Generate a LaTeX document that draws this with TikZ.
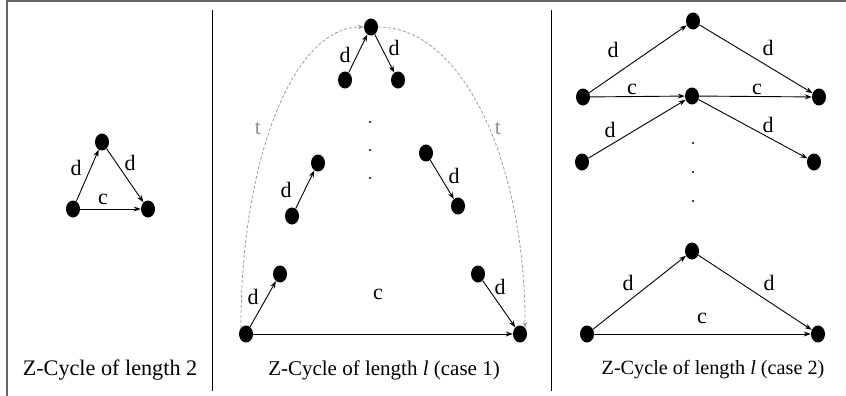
\documentclass[tikz,border=0pt]{standalone}
\usepackage{fontspec}
\setmainfont{Liberation Serif}
\usetikzlibrary{shapes.geometric,arrows.meta}
\begin{document}
\begin{tikzpicture}[x=1pt,y=-1pt,
  vtx/.style={ellipse,fill=black,minimum width=14pt,minimum height=17pt,inner sep=0pt},
  arr/.style={-{Stealth[length=7pt,width=5pt]},line width=0.9pt},
  tarr/.style={-{Stealth[length=6pt,width=4.5pt]},gray!80,line width=0.8pt,dash pattern=on 3pt off 2pt},
  lbl/.style={font=\fontsize{22}{24}\selectfont,inner sep=0pt},
  tlbl/.style={lbl,text=gray!90},
  captext/.style={font=\fontsize{21}{24}\selectfont,inner sep=0pt},
  framebox/.style={line width=2pt,draw=black!60},
  divider/.style={line width=0.9pt,draw=black},
  dotmark/.style={circle,fill=black,inner sep=0pt,minimum size=2.4pt}]
\useasboundingbox (0,0) rectangle (846,396);
% frame
\draw[framebox] (7,396) -- (7,1.5) -- (846,1.5);
\draw[divider] (212,10) -- (212,391);
\draw[divider] (551,10) -- (551,391);

% ---------- panel 1 ----------
\node[vtx] (a1) at (73,209) {};
\node[vtx] (a2) at (148,209) {};
\node[vtx] (a3) at (102,142) {};
\draw[arr] (a1) -- (a3);
\draw[arr] (a3) -- (a2);
\draw[arr] (a1) -- (a2);
\node[lbl] (la1) at (76,168) {d};
\node[lbl] (la2) at (130,163) {d};
\node[lbl] (la3) at (103,199) {c};
\node[captext,font=\fontsize{22.2}{24}\selectfont] (cap1) at (110,370) {Z-Cycle of length 2};

% ---------- panel 2 ----------
\node[vtx] (top) at (371,27) {};
\node[vtx] (u1) at (345,80) {};
\node[vtx] (u2) at (398,80) {};
\node[vtx] (m1) at (292,216) {};
\node[vtx] (m2) at (318,163) {};
\node[vtx] (m3) at (426,153) {};
\node[vtx] (m4) at (458,206) {};
\node[vtx] (b1) at (280,274) {};
\node[vtx] (b2) at (478,274) {};
\node[vtx] (bl) at (246,334) {};
\node[vtx] (br) at (520,334) {};
\draw[arr] (u1) -- (top);
\draw[arr] (top) -- (u2);
\draw[arr] (m1) -- (m2);
\draw[arr] (m3) -- (m4);
\draw[arr] (bl) -- (b1);
\draw[arr] (b2) -- (br);
\draw[arr] (bl) -- (br);
\draw[tarr] (bl.north west) .. controls +(0,-170) and +(-70,0) .. (top.west);
\draw[tarr] (top.east) .. controls +(85,0) and +(0,-165) .. (br.north east);
\node[dotmark] (d1) at (370,122) {};
\node[dotmark] (d2) at (370,150) {};
\node[dotmark] (d3) at (370,178) {};
\node[lbl] (lu1) at (345,55) {d};
\node[lbl] (lu2) at (394,48) {d};
\node[lbl] (lm1) at (286,190) {d};
\node[lbl] (lm2) at (454,176) {d};
\node[lbl] (lb1) at (253,297) {d};
\node[lbl] (lb2) at (500,287) {d};
\node[lbl] (lc) at (378,294) {c};
\node[tlbl] (lt1) at (258,128) {t};
\node[tlbl] (lt2) at (498,128) {t};
\node[captext] (cap2) at (384,370) {Z-Cycle of length \textit{l} (case 1)};

% ---------- panel 3 ----------
\node[vtx] (p1) at (583,97) {};
\node[vtx] (p2) at (693,21) {};
\node[vtx] (p3) at (692,96) {};
\node[vtx] (p4) at (819,97) {};
\node[vtx] (p5) at (582,162) {};
\node[vtx] (p6) at (814,162) {};
\node[vtx] (q1) at (587,334) {};
\node[vtx] (q2) at (692,251) {};
\node[vtx] (q3) at (818,334) {};
\draw[arr] (p1) -- (p2);
\draw[arr] (p2) -- (p4);
\draw[arr] (p1) -- (p3);
\draw[arr] (p3) -- (p4);
\draw[arr] (p5) -- (p3);
\draw[arr] (p3) -- (p6);
\draw[arr] (q1) -- (q2);
\draw[arr] (q2) -- (q3);
\draw[arr] (q1) -- (q3);
\node[dotmark] (e1) at (693,143) {};
\node[dotmark] (e2) at (693,172) {};
\node[dotmark] (e3) at (693,201) {};
\node[lbl] (lp1) at (613,50) {d};
\node[lbl] (lp2) at (768,48) {d};
\node[lbl] (lp3) at (632,89) {c};
\node[lbl] (lp4) at (757,89) {c};
\node[lbl] (lp5) at (610,130) {d};
\node[lbl] (lp6) at (768,125) {d};
\node[lbl] (lq1) at (628,283) {d};
\node[lbl] (lq2) at (769,283) {d};
\node[lbl] (lq3) at (702,318) {c};
\node[captext,font=\fontsize{20.2}{24}\selectfont] (cap3) at (713,370) {Z-Cycle of length \textit{l} (case 2)};
\end{tikzpicture}
\end{document}
